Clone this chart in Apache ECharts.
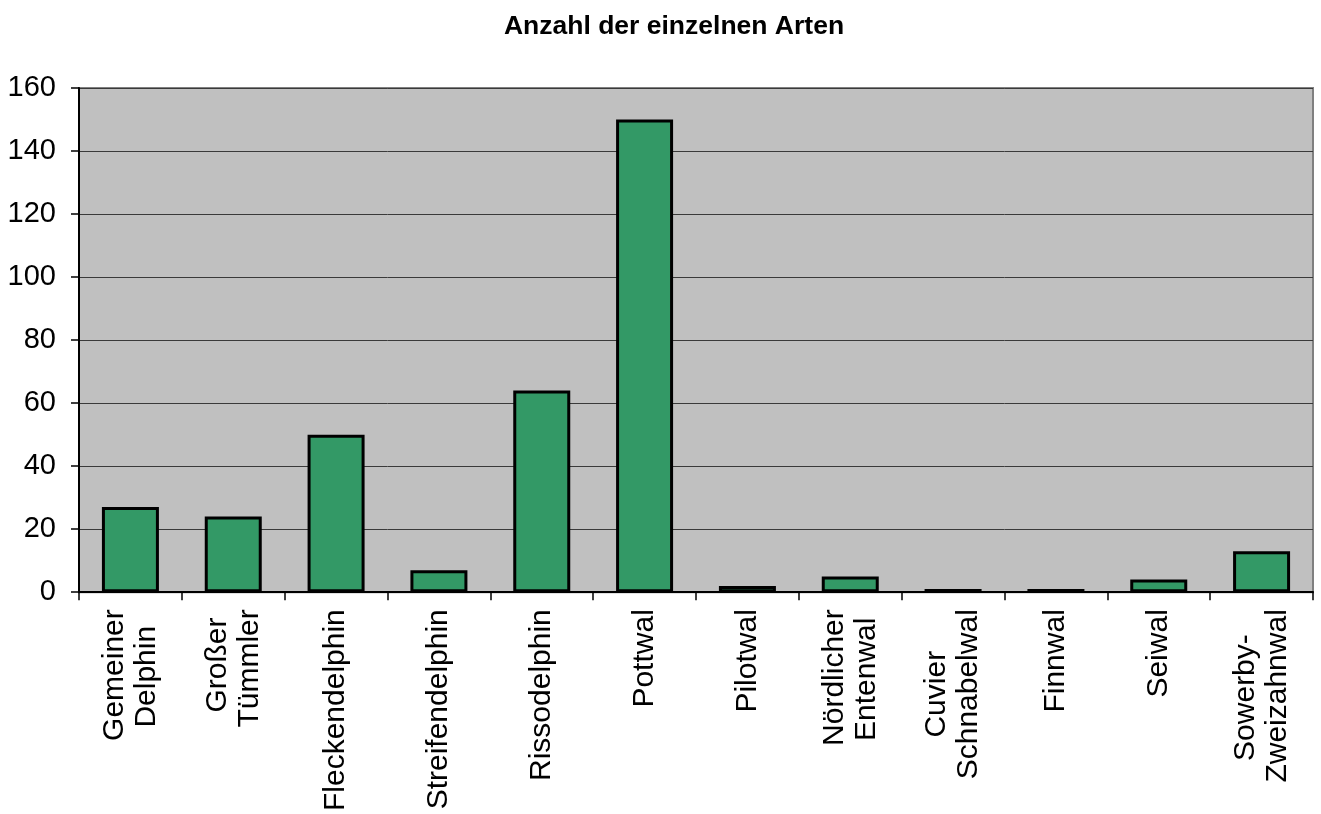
<!DOCTYPE html>
<html>
<head>
<meta charset="utf-8">
<script src="https://cdn.jsdelivr.net/npm/echarts@6/dist/echarts.min.js"></script>
<style>
  html, body { margin: 0; padding: 0; background: #fff; }
  #chart { width: 1321px; height: 814px; }
</style>
</head>
<body>
<div id="chart"></div>
<script>
const categories = [
  'Gemeiner\nDelphin', 'Großer\nTümmler', 'Fleckendelphin', 'Streifendelphin',
  'Rissodelphin', 'Pottwal', 'Pilotwal', 'Nördlicher\nEntenwal',
  'Cuvier\nSchnabelwal', 'Finnwal', 'Seiwal', 'Sowerby-\nZweizahnwal'
];
const counts = [27, 24, 50, 7, 64, 150, 2, 5, 1, 1, 4, 13];

const labelFont = 30;
const myChart = echarts.init(document.getElementById('chart'));

// the lines of a two-line label are centred on each other:
// pad the shorter one with trailing no-break spaces
const ctx = document.createElement('canvas').getContext('2d');
ctx.font = labelFont + 'px "Liberation Sans"';
const spaceW = ctx.measureText('\u00a0').width || 8;
const labelText = {};
categories.forEach((cat) => {
  const lines = cat.split('\n');
  const widths = lines.map(s => ctx.measureText(s).width);
  const maxW = Math.max(...widths);
  labelText[cat] = lines.map((s, j) => {
    const n = Math.round((maxW - widths[j]) / 2 / spaceW);
    return s + '\u00a0'.repeat(n);
  }).join('\n');
});

const option = {
  animation: false,
  textStyle: { fontFamily: 'Liberation Sans, Arial, sans-serif' },
  title: {
    text: 'Anzahl der einzelnen Arten',
    left: 669,
    textAlign: 'center',
    top: 8,
    textStyle: { fontSize: 26.5, fontWeight: 'bold', color: '#000', fontFamily: 'Liberation Sans' }
  },
  grid: {
    left: 79,
    right: 8,
    top: 88,
    bottom: 221,
    show: true,
    backgroundColor: '#c0c0c0',
    borderColor: '#808080',
    borderWidth: 2
  },
  xAxis: {
    type: 'category',
    data: categories,
    axisLine: { lineStyle: { color: '#000', width: 2 } },
    axisTick: { show: true, length: 8, lineStyle: { color: '#000', width: 1.5 } },
    axisLabel: {
      rotate: 90,
      interval: 0,
      margin: 17,
      color: '#000',
      fontSize: labelFont,
      lineHeight: 32,
      fontFamily: 'Liberation Sans',
      formatter: (v) => labelText[v]
    }
  },
  yAxis: {
    type: 'value',
    min: 0,
    max: 160,
    interval: 20,
    axisLine: { show: true, lineStyle: { color: '#000', width: 2 } },
    axisTick: { show: true, length: 8, lineStyle: { color: '#000', width: 1.5 } },
    splitLine: { show: true, lineStyle: { color: '#3a3a3a', width: 1 } },
    axisLabel: {
      margin: 23,
      fontSize: 29,
      color: '#000',
      fontFamily: 'Liberation Sans'
    }
  },
  series: [
    {
      name: 'Anzahl',
      type: 'bar',
      data: counts,
      barWidth: 57,
      itemStyle: {
        color: '#339966',
        borderColor: '#000',
        borderWidth: 3
      }
    }
  ]
};

myChart.setOption(option);
</script>
</body>
</html>
